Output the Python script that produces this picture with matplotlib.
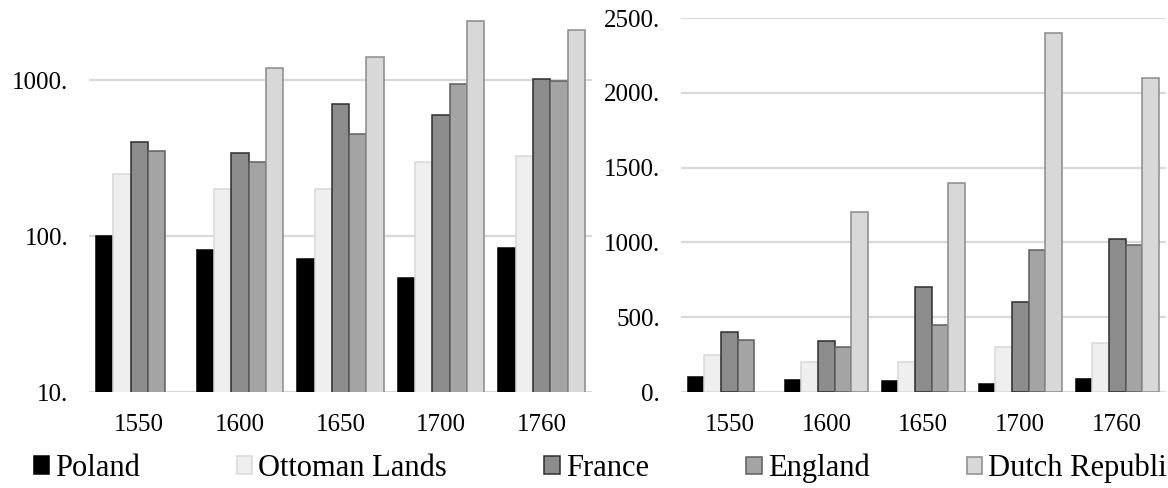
import numpy as np
import matplotlib.pyplot as plt
from matplotlib.patches import Rectangle
from matplotlib.ticker import FixedLocator, FuncFormatter, NullLocator

plt.rcParams['font.family'] = ['Liberation Serif', 'DejaVu Serif']

# data
years = ['1550', '1600', '1650', '1700', '1760']
countries = ['Poland', 'Ottoman Lands', 'France', 'England', 'Dutch Republic']
poland = [100, 81, 71, 54, 84]
ottoman = [250, 200, 200, 300, 325]
france = [400, 340, 700, 600, 1020]
england = [350, 300, 450, 950, 980]
dutch = [np.nan, 1200, 1400, 2400, 2100]
series = [poland, ottoman, france, england, dutch]

# grey scheme (fill, edge)
fills = ['#000000', '#efefef', '#8c8c8c', '#a4a4a4', '#d8d8d8']
edges = ['#000000', '#d8d8d8', '#2e2e2e', '#5e5e5e', '#8a8a8a']

fig = plt.figure(figsize=(11.68, 4.88), dpi=100)
ax1 = fig.add_axes([0.0762, 0.1967, 0.4307, 0.7664])
ax2 = fig.add_axes([0.583, 0.1967, 0.415, 0.7664])

x = np.arange(len(years))
w = 0.172


def draw(ax):
    for i, vals in enumerate(series):
        ax.bar(x + (i - 2) * w, vals, width=w, color=fills[i],
               edgecolor=edges[i], linewidth=1.1, zorder=3)
    ax.set_xlim(-0.5, len(years) - 0.5)
    ax.set_xticks(x)
    ax.set_xticklabels(years)
    for s in ax.spines.values():
        s.set_visible(False)
    ax.tick_params(axis='both', length=0, labelsize=18)
    ax.tick_params(axis='x', pad=16)
    ax.tick_params(axis='y', pad=15)
    ax.yaxis.grid(True, color='#d9d9d9', linewidth=1.6)
    ax.set_axisbelow(True)


draw(ax1)
ax1.set_yscale('log')
ax1.set_ylim(10, 2500)
ax1.yaxis.set_major_locator(FixedLocator([10, 100, 1000]))
ax1.yaxis.set_minor_locator(NullLocator())
ax1.yaxis.set_major_formatter(FuncFormatter(lambda v, p: f'{int(round(v))}.'))

draw(ax2)
ax2.set_ylim(0, 2500)
ax2.yaxis.set_major_locator(FixedLocator([0, 500, 1000, 1500, 2000, 2500]))
ax2.yaxis.set_major_formatter(FuncFormatter(lambda v, p: f'{int(round(v))}.'))

# legend row along the bottom, one entry at a time
# (the last label runs off the right edge, as in the reference)
leg_x = [0.029, 0.203, 0.466, 0.639, 0.828]
for i, name in enumerate(countries):
    h = Rectangle((0, 0), 1, 1, facecolor=fills[i], edgecolor=edges[i], linewidth=1.1)
    fig.legend(handles=[h], labels=[name], loc='center left',
               bbox_to_anchor=(leg_x[i], 0.04), frameon=False, fontsize=22,
               handlelength=0.5, handleheight=0.5, handletextpad=0.2,
               borderpad=0, borderaxespad=0)

fig.savefig('out.png', dpi=100)
